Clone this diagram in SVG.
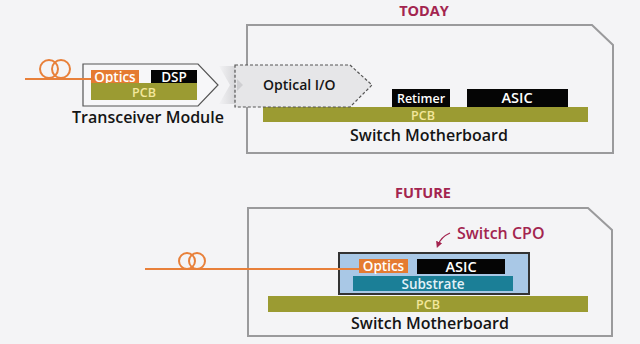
<svg xmlns="http://www.w3.org/2000/svg" width="640" height="344" viewBox="0 0 640 344">
<defs>
<style>
text{font-family:"Open Sans","Liberation Sans",sans-serif;font-weight:600}
.frame{fill:none;stroke:#9a9a9c;stroke-width:2}
.optics{fill:#e57b31}
.blk{fill:#050505}
.pcb{fill:#9b9b32}
.wt{fill:#ffffff;font-size:13.5px}
.pt{fill:#f3e79c;font-size:12.5px}
.lbl{fill:#151515;font-size:16px}
.head{fill:#a3244f;font-size:14.5px;font-weight:700}
.fiber{fill:none;stroke:#e8803a;stroke-width:2}
</style>
<linearGradient id="sh" x1="0" y1="0" x2="1" y2="0">
<stop offset="0" stop-color="#f2f2f4"/>
<stop offset="1" stop-color="#d6d6d9"/>
</linearGradient>
<marker id="ah" viewBox="0 0 10 10" refX="5" refY="5" markerWidth="5" markerHeight="5" orient="auto">
<path d="M0,0L10,5L0,10z" fill="#a3244f"/>
</marker>
</defs>
<rect width="640" height="344" fill="#f4f4f6"/>

<g id="today-title"><text class="head" x="424" y="16" text-anchor="middle">TODAY</text></g>
<g id="future-title"><text class="head" x="423" y="198" text-anchor="middle">FUTURE</text></g>

<g id="today-switch">
<path class="frame" d="M247,25H592L613,45V153H247Z"/>
<rect class="pcb" x="263" y="107" width="325" height="15"/>
<text class="pt" x="423" y="119.5" text-anchor="middle">PCB</text>
<text class="lbl" x="429" y="141" text-anchor="middle">Switch Motherboard</text>
</g>

<g id="shade"><path d="M219,66L236,66L236,104L219,104L230,85Z" fill="url(#sh)"/></g>

<g id="optical-io">
<path d="M235,65H350L372,85L350,107H235Z" fill="#e6e6e8" stroke="#555" stroke-width="1.2" stroke-dasharray="3,2"/>
<path d="M237,79L243,85L237,91Z" fill="#cfcfd2"/>
<text class="lbl" x="263" y="90" style="font-size:14px">Optical I/O</text>
</g>

<g id="retimer">
<rect class="blk" x="392" y="89" width="58" height="18"/>
<text class="wt" x="421" y="102.5" text-anchor="middle" style="font-size:12.5px">Retimer</text>
</g>
<g id="asic-today">
<rect class="blk" x="467" y="89" width="101" height="18"/>
<text class="wt" x="517" y="103" text-anchor="middle" style="font-size:14.5px">ASIC</text>
</g>

<g id="transceiver">
<path d="M83,64H198L218,85L198,106H83Z" fill="#f7f7f9" stroke="#555" stroke-width="1.2"/>
<rect class="optics" x="91" y="70" width="48" height="13"/>
<text class="wt" x="115" y="81.5" text-anchor="middle">Optics</text>
<rect class="blk" x="151" y="70" width="46" height="13"/>
<text class="wt" x="174" y="81.5" text-anchor="middle">DSP</text>
<rect class="pcb" x="91" y="83" width="106" height="17"/>
<text class="pt" x="144" y="96.5" text-anchor="middle">PCB</text>
<text class="lbl" x="148" y="123" text-anchor="middle">Transceiver Module</text>
</g>

<g id="future-switch">
<path class="frame" d="M248,208H588L612,230V336H248Z"/>
<rect class="pcb" x="268" y="296" width="320" height="16"/>
<text class="pt" x="428" y="308.5" text-anchor="middle">PCB</text>
<text class="lbl" x="430" y="329" text-anchor="middle">Switch Motherboard</text>
</g>

<g id="cpo">
<rect x="339" y="253" width="190" height="41" fill="#a9c8e6" stroke="#333" stroke-width="2"/>
<rect class="optics" x="359" y="259" width="49" height="14"/>
<text class="wt" x="383.5" y="271" text-anchor="middle">Optics</text>
<rect class="blk" x="417" y="259" width="88" height="15"/>
<text class="wt" x="461" y="271.5" text-anchor="middle" style="font-size:14.5px">ASIC</text>
<rect x="353" y="276" width="160" height="15" fill="#1b7f97"/>
<text x="433" y="288.5" text-anchor="middle" style="fill:#e3f1f8;font-size:13.5px">Substrate</text>
</g>

<g id="cpo-label">
<text x="457" y="239" style="fill:#a3244f;font-size:16px;font-weight:600">Switch CPO</text>
</g>

<g id="connectors">
<path class="fiber" d="M25,79H91"/>
<circle class="fiber" cx="49" cy="69" r="9"/>
<circle class="fiber" cx="61" cy="69" r="9"/>
<path class="fiber" d="M145,269H359"/>
<circle class="fiber" cx="187" cy="261" r="8"/>
<circle class="fiber" cx="197" cy="261" r="8"/>
<path d="M450,233Q441,237 438,245" fill="none" stroke="#a3244f" stroke-width="1.3" marker-end="url(#ah)"/>
</g>
</svg>
